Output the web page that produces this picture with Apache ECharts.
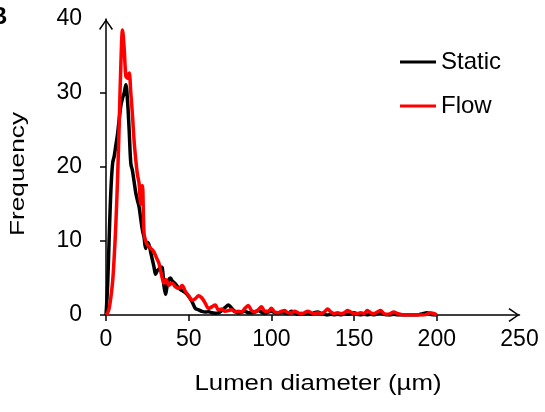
<!DOCTYPE html>
<html><head><meta charset="utf-8">
<script src="https://cdn.jsdelivr.net/npm/echarts@6/dist/echarts.min.js"></script>
<style>html,body{margin:0;padding:0;background:#fff}#c{width:545px;height:412px}</style>
</head><body><div id="c"></div>
<script>
// Lumen diameter bins (µm)
const diameters = [0,1,2,3,4,5,6,7,8,9,10,11,12,13,14,15,16,17,18,19,20,21,22,23,24,25,26,27,28,29,30,31,32,33,34,35,36,37,38,39,40,
  42,44,46,48,50,52,54,56,58,60,62,64,66,68,70,72,74,76,78,80,82,84,86,88,90,92,94,96,98,100,
  102,104,106,108,110,112,114,116,118,120,122,124,126,128,130,132,134,136,138,140,142,144,146,148,150,
  152,154,156,158,160,162,164,166,168,170,172,174,176,178,180,182,184,186,188,190,192,194,196,198,200];

// Static frequency
const staticFreq = [0,4,11,17,20.5,21.5,23,24.5,26.5,28.3,29.3,30,31.1,29,25,20.5,19.5,18,16.5,15.5,14.6,13,11.5,10.5,9,9.8,9.5,8.5,7.5,6.5,5.5,6,6.2,6.5,6.4,4,2.8,4,4.8,5,4.6,
  4.2,3.6,3.3,3,2.5,1.8,0.9,0.7,0.5,0.4,0.45,0.3,0.25,0.3,0.6,1,1.35,0.9,0.5,0.3,0.4,0.5,0.3,0.3,0.4,0.6,0.4,0.2,0.4,0.5,
  0.3,0.2,0.4,0.3,0.2,0.5,0.3,0.1,0.2,0.1,0.2,0.1,0.3,0.4,0.2,0.1,0,0.1,0,0.1,0,0.2,0.1,0.2,0.3,
  0.1,0,0.1,0,0.1,0,0.2,0.3,0.1,0,0,0.1,0,0,0,0,0,0,0,0.1,0.2,0.3,0.1,0,0];

// Flow frequency
const flowFreq = [0,0.3,1,2.5,4.5,8,12.5,18.5,26,34,38.5,36,32.3,32,32.7,30,27,23.5,21,19,17.8,15,17.5,11,10,9.5,9.3,9,8.8,8.5,8,7.5,7,6,5,4.3,4.8,4.5,4,4.2,4.3,
  3.8,3.6,4,3.2,2.6,2,2.2,2.6,2.3,1.6,0.9,1.1,1.35,0.7,0.8,0.5,0.6,0.7,0.4,0.5,0.4,0.9,1.3,0.6,0.4,0.7,1.1,0.5,0.5,0.9,
  0.4,0.3,0.5,0.6,0.3,0.3,0.5,0.3,0.2,0.3,0.5,0.3,0.2,0.3,0.2,0.4,0.8,0.4,0.2,0.3,0.2,0.3,0.6,0.4,0.2,
  0.2,0.3,0.2,0.6,0.3,0.2,0.4,0.6,0.2,0.1,0.2,0.4,0.2,0.1,0,0,0,0,0,0,0,0.1,0.3,0.2,0];

const xTickValues = [0,50,100,150,200];
const yTickValues = [0,10,20,30];
const seriesNames = ['Static','Flow'];

const FONT = 'Liberation Sans, Arial, sans-serif';
const arrowPath = 'path://M7,0 L14,10 L12.8,11 L7,2.4 L1.2,11 L0,10 Z';

const chart = echarts.init(document.getElementById('c'));
chart.setOption({
  animation: false,
  backgroundColor: '#fff',
  textStyle: { fontFamily: FONT },
  grid: { left: 106, right: 25.5, top: 19, bottom: 97, containLabel: false },
  legend: {
    data: seriesNames,
    orient: 'vertical',
    left: 400,
    top: 50,
    padding: 0,
    icon: 'rect',
    itemWidth: 36,
    itemHeight: 3,
    itemGap: 20,
    textStyle: { fontFamily: FONT, fontSize: 24, lineHeight: 24, color: '#000' }
  },
  xAxis: {
    type: 'value', min: 0, max: 250, interval: 50,
    splitLine: { show: false },
    axisLine: { lineStyle: { color: '#000', width: 1.5 }, symbol: ['none', arrowPath], symbolSize: [14, 11], symbolOffset: [0, -5.5] },
    axisTick: { show: true, length: 6, lineStyle: { color: '#000', width: 1.5 }, customValues: xTickValues },
    axisLabel: { color: '#000', fontSize: 23, fontFamily: FONT, margin: 13 }
  },
  yAxis: {
    type: 'value', min: 0, max: 40, interval: 10,
    splitLine: { show: false },
    axisLine: { show: true, lineStyle: { color: '#000', width: 1.5 }, symbol: ['none', arrowPath], symbolSize: [14, 11], symbolOffset: [0, -5.5] },
    axisTick: { show: true, length: 6, lineStyle: { color: '#000', width: 1.5 }, customValues: yTickValues },
    axisLabel: { color: '#000', fontSize: 23, fontFamily: FONT, margin: 24 }
  },
  graphic: [
    { type: 'text', x: 18.5, y: 174, rotation: Math.PI / 2, scaleX: 1.25,
      style: { text: 'Frequency', fontSize: 21, fontFamily: FONT, fill: '#000', textAlign: 'center', textVerticalAlign: 'middle' } },
    { type: 'text', x: 318, y: 384, scaleX: 1.2,
      style: { text: 'Lumen diameter (µm)', fontSize: 21.5, fontFamily: FONT, fill: '#000', textAlign: 'center', textVerticalAlign: 'middle' } },
    { type: 'text', x: -10, y: 17,
      style: { text: 'B', fontSize: 24, fontWeight: 'bold', fontFamily: FONT, fill: '#000', textAlign: 'left', textVerticalAlign: 'middle' } }
  ],
  series: [
    { name: seriesNames[0], type: 'line', smooth: 0.35, showSymbol: false, symbol: 'none',
      color: '#000', lineStyle: { color: '#000', width: 3.5 },
      data: diameters.map((d, i) => [d, staticFreq[i]]) },
    { name: seriesNames[1], type: 'line', smooth: 0.35, showSymbol: false, symbol: 'none',
      color: '#ff0000', lineStyle: { color: '#ff0000', width: 3.5 },
      data: diameters.map((d, i) => [d, flowFreq[i]]) }
  ]
});
</script>
</body></html>
